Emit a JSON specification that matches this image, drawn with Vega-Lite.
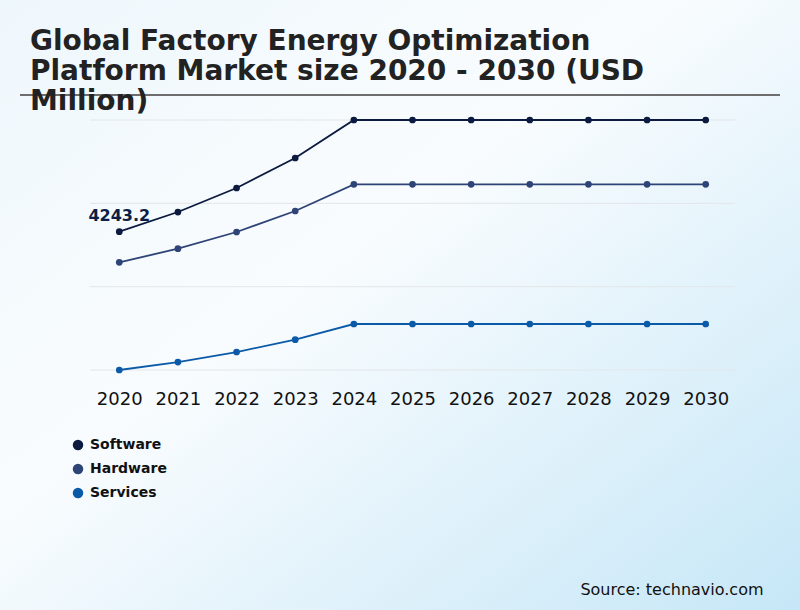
{
  "$schema": "https://vega.github.io/schema/vega-lite/v6.json",
  "width": 800,
  "height": 610,
  "autosize": "none",
  "padding": 0,
  "background": "#f4fafd",
  "title": {
    "text": ["Global Factory Energy Optimization", "Platform Market size 2020 - 2030 (USD", "Million)"],
    "anchor": "start",
    "frame": "group",
    "dx": 30,
    "offset": -116,
    "font": "DejaVu Sans",
    "fontSize": 28,
    "fontWeight": "bold",
    "lineHeight": 30,
    "color": "#222222"
  },
  "data": {
    "values": [
      {"year": 2020, "segment": "Software", "value": 4243.2},
      {"year": 2021, "segment": "Software", "value": 4847},
      {"year": 2022, "segment": "Software", "value": 5584},
      {"year": 2023, "segment": "Software", "value": 6504},
      {"year": 2024, "segment": "Software", "value": 7670},
      {"year": 2025, "segment": "Software", "value": 7670},
      {"year": 2026, "segment": "Software", "value": 7670},
      {"year": 2027, "segment": "Software", "value": 7670},
      {"year": 2028, "segment": "Software", "value": 7670},
      {"year": 2029, "segment": "Software", "value": 7670},
      {"year": 2030, "segment": "Software", "value": 7670},
      {"year": 2020, "segment": "Hardware", "value": 3304},
      {"year": 2021, "segment": "Hardware", "value": 3722},
      {"year": 2022, "segment": "Hardware", "value": 4234},
      {"year": 2023, "segment": "Hardware", "value": 4878},
      {"year": 2024, "segment": "Hardware", "value": 5697},
      {"year": 2025, "segment": "Hardware", "value": 5697},
      {"year": 2026, "segment": "Hardware", "value": 5697},
      {"year": 2027, "segment": "Hardware", "value": 5697},
      {"year": 2028, "segment": "Hardware", "value": 5697},
      {"year": 2029, "segment": "Hardware", "value": 5697},
      {"year": 2030, "segment": "Hardware", "value": 5697},
      {"year": 2020, "segment": "Services", "value": 0},
      {"year": 2021, "segment": "Services", "value": 245},
      {"year": 2022, "segment": "Services", "value": 552},
      {"year": 2023, "segment": "Services", "value": 930},
      {"year": 2024, "segment": "Services", "value": 1411},
      {"year": 2025, "segment": "Services", "value": 1411},
      {"year": 2026, "segment": "Services", "value": 1411},
      {"year": 2027, "segment": "Services", "value": 1411},
      {"year": 2028, "segment": "Services", "value": 1411},
      {"year": 2029, "segment": "Services", "value": 1411},
      {"year": 2030, "segment": "Services", "value": 1411}
    ]
  },
  "layer": [
    {
      "data": {"values": [{}]},
      "mark": {
        "type": "rect",
        "color": {
          "gradient": "linear",
          "x1": 0, "y1": 0, "x2": 1, "y2": 1,
          "stops": [
            {"offset": 0, "color": "#eef7fc"},
            {"offset": 0.42, "color": "#f9fcfe"},
            {"offset": 1, "color": "#c6e7f7"}
          ]
        }
      },
      "encoding": {}
    },
    {
      "data": {"values": [{"tick": 0}, {"tick": 2557}, {"tick": 5113}, {"tick": 7670}]},
      "mark": {"type": "rule", "color": "#e3e6e9", "strokeWidth": 1},
      "encoding": {
        "x": {"datum": 2019.5, "type": "quantitative"},
        "x2": {"datum": 2030.5},
        "y": {"field": "tick", "type": "quantitative", "axis": null}
      }
    },
    {
      "data": {"values": [{}]},
      "mark": {"type": "rule", "color": "#6e6e6e", "strokeWidth": 2},
      "encoding": {
        "x": {"datum": 2018.307, "type": "quantitative"},
        "x2": {"datum": 2031.267},
        "y": {"datum": 8437, "type": "quantitative", "axis": null}
      }
    },
    {
      "mark": {"type": "line", "strokeWidth": 1.8},
      "encoding": {
        "x": {
          "field": "year",
          "type": "quantitative",
          "scale": {"domain": [2017.966, 2031.608], "nice": false, "zero": false},
          "axis": {
            "values": [2020, 2021, 2022, 2023, 2024, 2025, 2026, 2027, 2028, 2029, 2030],
            "format": "d",
            "orient": "bottom",
            "offset": -240,
            "zindex": 2,
            "domain": false,
            "ticks": false,
            "tickSize": 0,
            "grid": false,
            "labelFont": "DejaVu Sans",
            "labelFontSize": 18,
            "labelColor": "#111111",
            "labelBaseline": "alphabetic",
            "labelPadding": 34,
            "title": "Source: technavio.com",
            "titleFont": "DejaVu Sans",
            "titleFontSize": 16,
            "titleFontWeight": "normal",
            "titleColor": "#111111",
            "titleAlign": "right",
            "titleBaseline": "alphabetic",
            "titleX": 763,
            "titleY": 224
          }
        },
        "y": {
          "field": "value",
          "type": "quantitative",
          "scale": {"domain": [-7363, 11352], "nice": false, "zero": false},
          "axis": null
        },
        "color": {
          "field": "segment",
          "type": "nominal",
          "scale": {"domain": ["Software", "Hardware", "Services"], "range": ["#0b1a3e", "#2f4476", "#0b5aa8"]},
          "legend": {
            "title": null,
            "orient": "none",
            "legendX": 71,
            "legendY": 438,
            "padding": 0,
            "zindex": 2,
            "symbolType": "circle",
            "symbolSize": 110,
            "symbolStrokeWidth": 0,
            "symbolOpacity": 1,
            "labelFont": "DejaVu Sans",
            "labelFontSize": 14,
            "labelFontWeight": "bold",
            "labelColor": "#111111",
            "labelOffset": 5,
            "rowPadding": 10
          }
        }
      }
    },
    {
      "mark": {"type": "point", "filled": true, "size": 45, "opacity": 1},
      "encoding": {
        "x": {"field": "year", "type": "quantitative"},
        "y": {"field": "value", "type": "quantitative", "axis": null},
        "color": {"field": "segment", "type": "nominal"}
      }
    },
    {
      "transform": [{"filter": "datum.segment === 'Software' && datum.year === 2020"}],
      "mark": {"type": "text", "font": "DejaVu Sans", "fontSize": 16, "fontWeight": "bold", "color": "#0b1f45", "align": "center", "baseline": "middle", "dy": -16},
      "encoding": {
        "x": {"field": "year", "type": "quantitative"},
        "y": {"field": "value", "type": "quantitative", "axis": null},
        "text": {"field": "value", "type": "quantitative", "format": ".1f"}
      }
    }
  ],
  "config": {
    "font": "DejaVu Sans",
    "view": {"stroke": null}
  }
}
